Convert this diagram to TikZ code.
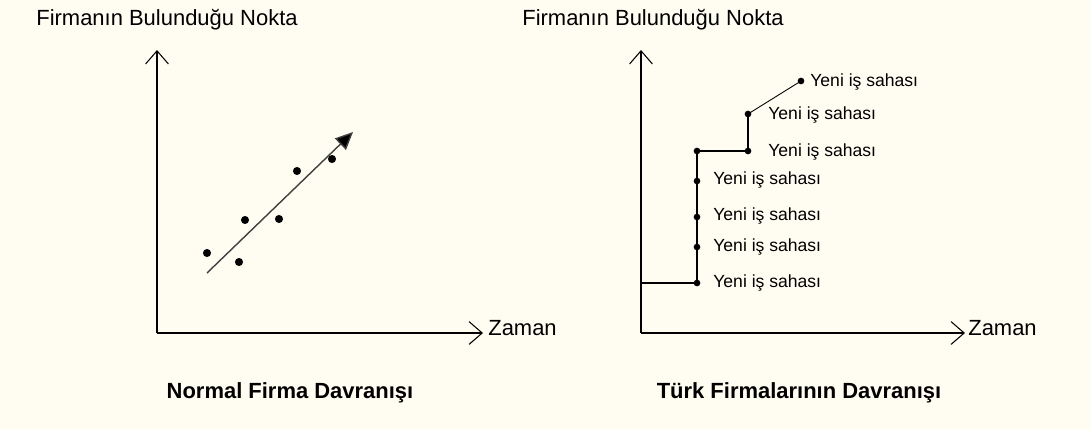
\documentclass[tikz,border=0pt]{standalone}
\usepackage{fontspec}
\setmainfont{Liberation Sans}
\usetikzlibrary{arrows.meta,positioning}
\definecolor{paper}{RGB}{255,253,242}

\begin{document}
\begin{tikzpicture}[x=0.02cm, y=-0.02cm,
      axis_line/.style ={draw=black, line width=0.6pt,
        -{Straight Barb[length=7.5pt,width=13pt,line width=0.6pt]}},
      trend_line/.style ={draw=black!75, line width=0.8pt,
        -{Triangle[length=10pt,width=9pt,fill=black]}},
      step_line/.style ={draw=black, line width=0.75pt},
      dot_big/.style ={circle, fill=black, inner sep=0pt, minimum size=4.6pt},
      dot_small/.style ={circle, fill=black, inner sep=0pt, minimum size=3.8pt},
      axis_title/.style ={inner sep=0pt, font=\fontsize{12.5}{14}\selectfont},
      chart_title/.style ={inner sep=0pt, font=\fontsize{12.5}{14}\selectfont\bfseries},
      saha_label/.style ={inner sep=0pt, anchor=west, font=\fontsize{10}{12}\selectfont}]
    %
    % 0. page
    \fill[paper] (0,0) rectangle (1090,430);
    \useasboundingbox (0,0) rectangle (1090,430);
    %
    % 1. axes
    \coordinate (o1) at (157,333);
    \coordinate (ytop1) at (157,50);
    \coordinate (xend1) at (483,333);
    \coordinate (o2) at (641,333);
    \coordinate (ytop2) at (641,50);
    \coordinate (xend2) at (965,333);
    \path[axis_line] (o1) -- (ytop1);
    \path[axis_line] (o1) -- (xend1);
    \path[axis_line] (o2) -- (ytop2);
    \path[axis_line] (o2) -- (xend2);
    %
    % axis texts
    \node[axis_title] (ylab1) at (167,20) {Firmanın Bulunduğu Nokta};
    \node[axis_title] (ylab2) at (653,20) {Firmanın Bulunduğu Nokta};
    \node[axis_title, anchor=west] (xlab1) at (488,328) {Zaman};
    \node[axis_title, anchor=west] (xlab2) at (968,328) {Zaman};
    %
    % 2. normal firm: scattered points and trend
    \node[dot_big] (p1) at (207,253) {};
    \node[dot_big] (p2) at (239,262) {};
    \node[dot_big] (p3) at (245,220) {};
    \node[dot_big] (p4) at (279,219) {};
    \node[dot_big] (p5) at (297,171) {};
    \node[dot_big] (p6) at (332,159) {};
    \coordinate (tr_start) at (207,273);
    \coordinate (tr_end) at (353,132);
    \path[trend_line] (tr_start) -- (tr_end);
    %
    % 3. turkish firms: new business fields
    \coordinate (hit) at (641,283);
    \node[dot_small] (s1) at (697,283) {};
    \node[dot_small] (s2) at (697,247) {};
    \node[dot_small] (s3) at (697,217) {};
    \node[dot_small] (s4) at (697,181) {};
    \node[dot_small] (s5) at (697,151) {};
    \node[dot_small] (s6) at (748,151) {};
    \node[dot_small] (s7) at (748,114) {};
    \node[dot_small] (s8) at (801,81) {};
    \draw[step_line] (hit) -- (s1.center) -- (s5.center) -- (s6.center) -- (s7.center);
    \draw[black, line width=0.5pt] (s7.center) -- (s8.center);
    %
    \node[saha_label] (l1) at (713,283) {Yeni iş sahası};
    \node[saha_label] (l2) at (713,247) {Yeni iş sahası};
    \node[saha_label] (l3) at (713,216) {Yeni iş sahası};
    \node[saha_label] (l4) at (713,180) {Yeni iş sahası};
    \node[saha_label] (l5) at (768,152) {Yeni iş sahası};
    \node[saha_label] (l6) at (768,115) {Yeni iş sahası};
    \node[saha_label] (l7) at (810,82) {Yeni iş sahası};
    %
    % 4. captions
    \node[chart_title] (cap1) at (290,393) {Normal Firma Davranışı};
    \node[chart_title] (cap2) at (799,393) {Türk Firmalarının Davranışı};
\end{tikzpicture}
\end{document}
